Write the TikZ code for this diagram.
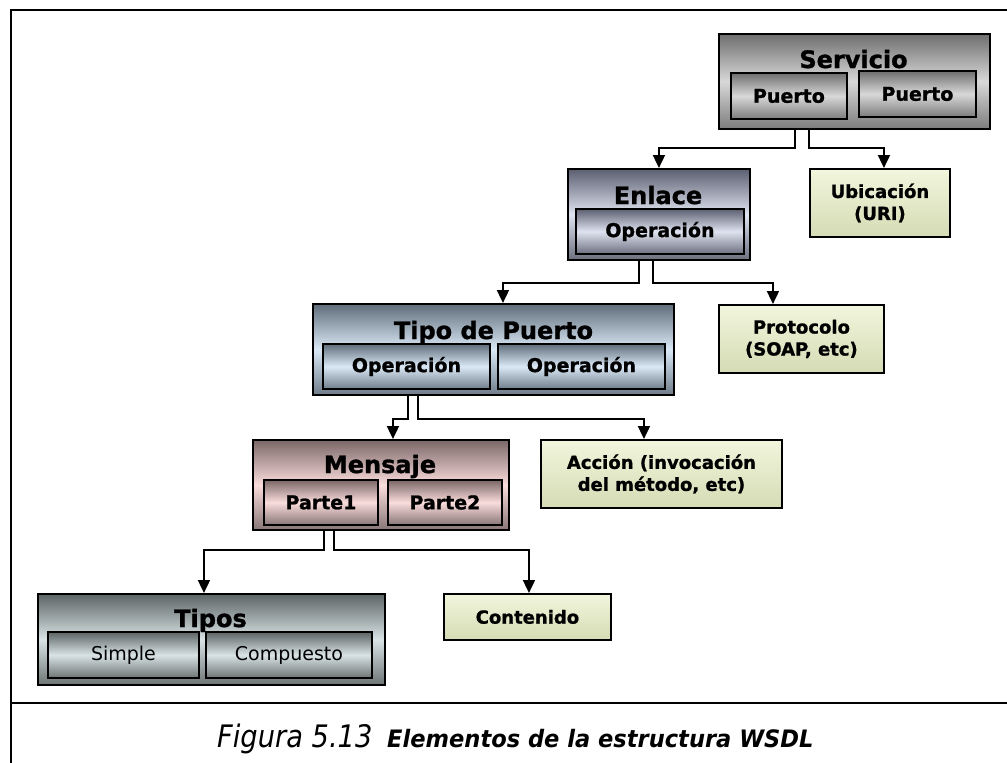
\documentclass[tikz,border=0pt]{standalone}
\usepackage{fontspec}
\setmainfont{DejaVu Sans}[BoldFeatures={FakeBold=1.2}]
\usetikzlibrary{arrows.meta,calc}
\definecolor{srvdark}{HTML}{6E6E6E}
\definecolor{srvlight}{HTML}{D8D8D8}
\definecolor{enldark}{HTML}{5C5F70}
\definecolor{enllight}{HTML}{DFE2EF}
\definecolor{tdpdark}{HTML}{5F6D7B}
\definecolor{tdplight}{HTML}{DBE9F7}
\definecolor{msgdark}{HTML}{7B6767}
\definecolor{msglight}{HTML}{FADCDC}
\definecolor{tipdark}{HTML}{5C6464}
\definecolor{tiplight}{HTML}{D9E3E5}
\definecolor{grntop}{HTML}{F1F6DD}
\definecolor{grnbot}{HTML}{D5DBB4}
\tikzset{
  bx/.style={draw=black, line width=1.9pt, inner sep=0pt, anchor=north west},
  srvbox/.style={bx, top color=srvdark, bottom color=srvdark!90, middle color=srvlight},
  enlbox/.style={bx, top color=enldark, bottom color=enldark!90, middle color=enllight},
  tdpbox/.style={bx, top color=tdpdark, bottom color=tdpdark!90, middle color=tdplight},
  msgbox/.style={bx, top color=msgdark, bottom color=msgdark!90, middle color=msglight},
  tipbox/.style={bx, top color=tipdark, bottom color=tipdark!90, middle color=tiplight},
  grnbox/.style={bx, top color=grntop, bottom color=grnbot, align=center,
    font=\fontsize{18}{22}\selectfont\bfseries},
  title/.style={anchor=base, inner sep=0pt, font=\fontsize{24}{28}\selectfont\bfseries},
  inb/.style={font=\fontsize{19}{22}\selectfont\bfseries},
  inr/.style={font=\fontsize{19}{22}\selectfont},
  conn/.style={line width=1.8pt, -{Triangle[length=13pt,width=12pt]}},
  frame/.style={line width=2pt}
}
\begin{document}
\begin{tikzpicture}[x=1pt,y=-1pt]
\useasboundingbox (0,0) rectangle (1007,763);
\fill[white] (0,0) rectangle (1007,763);
\draw[frame] (11,763) -- (11,10) -- (1007,10);
\draw[frame] (11,703) -- (1007,703);
% Servicio
\node[srvbox, minimum width=271pt, minimum height=95pt] (serv) at (718,33) {};
\node[title] (servt) at (853.5,68) {Servicio};
\node[srvbox, inb, minimum width=116pt, minimum height=46pt] (pu1) at (730,72) {Puerto};
\node[srvbox, inb, minimum width=117pt, minimum height=46pt] (pu2) at (858,70) {Puerto};
\node[grnbox, minimum width=140pt, minimum height=68pt] (ubi) at (809,168) {Ubicación\\(URI)};
% Enlace
\node[enlbox, minimum width=182pt, minimum height=91pt] (enl) at (567,168) {};
\node[title] (enlt) at (658,204) {Enlace};
\node[enlbox, inb, minimum width=168pt, minimum height=45pt] (enlop) at (575,208) {Operación};
\node[grnbox, minimum width=165pt, minimum height=68pt] (prot) at (718,304) {Protocolo\\(SOAP, etc)};
% Tipo de Puerto
\node[tdpbox, minimum width=361pt, minimum height=91pt] (tdp) at (312,303) {};
\node[title] (tdpt) at (493.5,339) {Tipo de Puerto};
\node[tdpbox, inb, minimum width=167pt, minimum height=45pt] (op1) at (322,343) {Operación};
\node[tdpbox, inb, minimum width=167pt, minimum height=45pt] (op2) at (497,343) {Operación};
\node[grnbox, minimum width=241pt, minimum height=68pt] (acc) at (540,439) {Acción (invocación\\del método, etc)};
% Mensaje
\node[msgbox, minimum width=256pt, minimum height=90pt] (mens) at (252,439) {};
\node[title] (menst) at (380,473) {Mensaje};
\node[msgbox, inb, minimum width=114pt, minimum height=45pt] (pa1) at (263,479) {Parte1};
\node[msgbox, inb, minimum width=114pt, minimum height=45pt] (pa2) at (387,479) {Parte2};
% Tipos
\node[tipbox, minimum width=347pt, minimum height=91pt] (tipos) at (37,593) {};
\node[tipbox, inr, minimum width=151pt, minimum height=46pt] (simp) at (47,631) {Simple};
\node[tipbox, inr, minimum width=166pt, minimum height=46pt] (comp) at (205,631) {Compuesto};
\node[title] (tipost) at (210.5,627) {Tipos};
\node[grnbox, minimum width=167pt, minimum height=46pt] (cont) at (443,593) {Contenido};
% connectors
\draw[conn] ([xshift=-59.5pt]serv.south) -- ++(0,18) -| (enl.north);
\draw[conn] ([xshift=-45.5pt]serv.south) -- ++(0,18) -| ([xshift=4pt]ubi.north);
\draw[conn] ([xshift=-20pt]enl.south) -- ++(0,22) -| ([xshift=9.5pt]tdp.north);
\draw[conn] ([xshift=-6pt]enl.south) -- ++(0,22) -| ([xshift=-28.5pt]prot.north);
\draw[conn] ([xshift=-85.5pt]tdp.south) -- ++(0,23) -| ([xshift=12pt]mens.north);
\draw[conn] ([xshift=-75.5pt]tdp.south) -- ++(0,23) -| ([xshift=-17.5pt]acc.north);
\draw[conn] ([xshift=-57pt]mens.south) -- ++(0,19) -| ([xshift=-7.5pt]tipos.north);
\draw[conn] ([xshift=-47pt]mens.south) -- ++(0,19) -| ([xshift=1.5pt]cont.north);
% caption
\node[anchor=base west, inner sep=0pt, font=\fontsize{31}{34}\selectfont\itshape] (capa) at (217,747) {\scalebox{0.88}[1]{Figura 5.13}};
\node[anchor=base west, inner sep=0pt, font=\fontsize{24}{28}\selectfont\bfseries\itshape] (capb) at (387,747) {\scalebox{0.94}[1]{Elementos de la estructura WSDL}};
\end{tikzpicture}
\end{document}
